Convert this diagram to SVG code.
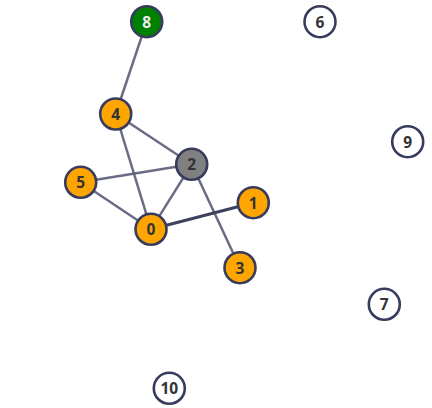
<svg xmlns="http://www.w3.org/2000/svg" width="432" height="408" viewBox="0 0 432 408">
<style>
.e{stroke:#5a5c78;stroke-opacity:0.9;stroke-width:2.5;fill:none}
.e2{stroke:#3e4060;stroke-opacity:1;stroke-width:3}
.n circle{stroke:#383c5c;stroke-width:2.6}
.n text{font-family:"Open Sans","Noto Sans",sans-serif;font-weight:bold;font-size:15.5px;text-anchor:middle;dominant-baseline:central;fill:#333}
.n text.w{fill:#eee}
</style>
<rect width="432" height="408" fill="#fff"/>
<g id="edges">
<line class="e" x1="146.7" y1="21.7" x2="115.7" y2="114"/>
<line class="e" x1="115.7" y1="114" x2="191.7" y2="164.3"/>
<line class="e" x1="115.7" y1="114" x2="151" y2="229.3"/>
<line class="e" x1="80.7" y1="182.3" x2="191.7" y2="164.3"/>
<line class="e" x1="80.7" y1="182.3" x2="151" y2="229.3"/>
<line class="e" x1="191.7" y1="164.3" x2="151" y2="229.3"/>
<line class="e" x1="191.7" y1="164.3" x2="240" y2="267.7"/>
<line class="e e2" x1="151" y1="229.3" x2="253.3" y2="202.7"/>
</g>
<g id="node-8" class="n"><circle cx="146.7" cy="21.7" r="15.5" fill="#008000"/><text class="w" x="146.7" y="21.7">8</text></g>
<g id="node-4" class="n"><circle cx="115.7" cy="114" r="15.5" fill="#FFA500"/><text x="115.7" y="114">4</text></g>
<g id="node-2" class="n"><circle cx="191.7" cy="164.3" r="15.5" fill="#808080"/><text x="191.7" y="164.3">2</text></g>
<g id="node-5" class="n"><circle cx="80.7" cy="182.3" r="15.5" fill="#FFA500"/><text x="80.7" y="182.3">5</text></g>
<g id="node-0" class="n"><circle cx="151" cy="229.3" r="15.5" fill="#FFA500"/><text x="151" y="229.3">0</text></g>
<g id="node-1" class="n"><circle cx="253.3" cy="202.7" r="15.5" fill="#FFA500"/><text x="253.3" y="202.7">1</text></g>
<g id="node-3" class="n"><circle cx="240" cy="267.7" r="15.5" fill="#FFA500"/><text x="240" y="267.7">3</text></g>
<g id="node-6" class="n"><circle cx="320" cy="21.7" r="15.5" fill="#fff"/><text x="320" y="21.7">6</text></g>
<g id="node-9" class="n"><circle cx="407.7" cy="141.7" r="15.5" fill="#fff"/><text x="407.7" y="141.7">9</text></g>
<g id="node-7" class="n"><circle cx="384.3" cy="304.3" r="15.5" fill="#fff"/><text x="384.3" y="304.3">7</text></g>
<g id="node-10" class="n"><circle cx="169.3" cy="388.3" r="15.5" fill="#fff"/><text x="169.3" y="388.3">10</text></g>
</svg>
